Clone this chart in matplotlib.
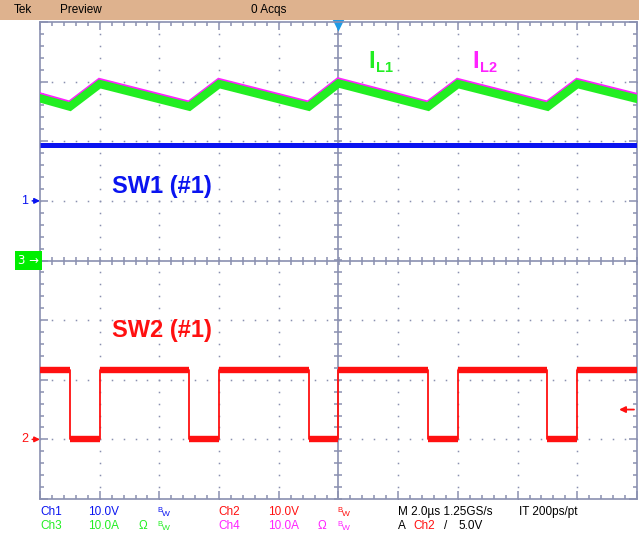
import matplotlib
matplotlib.use("Agg")
import numpy as np
import matplotlib.pyplot as plt
import matplotlib.transforms as mtransforms
from matplotlib.patches import Rectangle

# time base: 2 us/div, trigger at the centre of the screen
t_fall = [-9.0, -5.0, -1.0, 3.0, 7.0]   # SW2 falling edges (us)
t_rise = [-8.0, -4.0, 0.0, 4.0, 8.0]    # SW2 rising edges (us)
sw2_high = 11.7   # V
sw2_low = 0.1     # V

sw1_t = [-10.0, 10.0]
sw1_v = [9.3, 9.3]  # V

# inductor currents, corner points (us, A)
il_t = [-10.0, -9.0, -8.0, -5.0, -4.0, -1.0, 0.0, 3.0, 4.0, 7.0, 8.0, 10.0]
il1 = [27.2, 25.8, 29.6, 25.8, 29.6, 25.8, 29.7, 25.8, 29.6, 25.8, 29.6, 27.1]
il2 = [27.5, 26.1, 29.9, 26.1, 29.9, 26.1, 30.0, 26.1, 29.9, 26.1, 29.9, 27.4]

trig_level = 5.0  # V on Ch2

W, H = 639, 535
GRID = "#8A90B0"
BLUE = "#0A14F0"
RED = "#FF1010"
GREEN = "#22EE22"
MAG = "#FF22FF"

plt.rcParams["font.family"] = ["Liberation Sans", "DejaVu Sans"]


def fx(x):
    return x / W


def fy(y):
    return 1 - y / H


fig = plt.figure(figsize=(W / 100, H / 100), dpi=100)
fig.patches.append(Rectangle((0, fy(20)), 1, 20 / H, transform=fig.transFigure,
                             facecolor="#DEB28E", edgecolor="none"))
fig.text(fx(14), fy(10), "Tek", fontsize=8.5, va="center")
fig.text(fx(60), fy(10), "Preview", fontsize=8.5, va="center")
fig.text(fx(251), fy(10), "0 Acqs", fontsize=8.5, va="center")

rect = [fx(40), fy(499), 597 / W, 477 / H]
ax = fig.add_axes(rect)
ax.set_xlim(-10, 10)
ax.set_ylim(-4, 4)
for s in ax.spines.values():
    s.set_color(GRID)
    s.set_linewidth(1.2)
ax.set_xticks(np.arange(-10, 10.1, 2))
ax.set_xticks(np.arange(-10, 10.1, 0.4), minor=True)
ax.set_yticks(np.arange(-4, 4.1, 1))
ax.set_yticks(np.arange(-4, 4.1, 0.2), minor=True)
ax.tick_params(which="both", direction="in", top=True, right=True,
               labelbottom=False, labelleft=False, color=GRID, width=1.1)
ax.tick_params(which="major", length=6)
ax.tick_params(which="minor", length=3)

# dotted graticule
xd = np.arange(-10, 10.01, 0.4)
yd = np.arange(-4, 4.01, 0.2)
for gy in [-3, -2, -1, 1, 2, 3]:
    ax.plot(xd, np.full_like(xd, gy), ls="none", marker="s", ms=1.1,
            mec="none", mfc=GRID)
for gx in [-8, -6, -4, -2, 2, 4, 6, 8]:
    ax.plot(np.full_like(yd, gx), yd, ls="none", marker="s", ms=1.1,
            mec="none", mfc=GRID)
# centre cross with ticks
ax.axhline(0, color=GRID, lw=1.2)
ax.axvline(0, color=GRID, lw=1.2)
ax.plot(xd, np.zeros_like(xd), ls="none", marker="|", ms=6, mew=1.1, color=GRID)
ax.plot(np.zeros_like(yd), yd, ls="none", marker="_", ms=6, mew=1.1, color=GRID)
ax.plot(0, 3.95, marker="v", ms=8, color="#1E9BE6", mec="none", clip_on=False)


def chan_axes(ylim):
    a = fig.add_axes(rect, sharex=ax)
    a.set_ylim(*ylim)
    a.set_axis_off()
    a.patch.set_visible(False)
    return a


ax1 = chan_axes((-50, 30))    # 10 V/div
ax2 = chan_axes((-10, 70))    # 10 V/div
ax4 = chan_axes((-40, 40))    # 10 A/div
ax3 = chan_axes((-40, 40))    # 10 A/div

# Ch1
ax1.plot(sw1_t, sw1_v, color=BLUE, lw=3.6, solid_capstyle="butt")

# Ch2 (SW2)
sw2_t = [-10.0]
sw2_v = [sw2_high]
for tf, tr in zip(t_fall, t_rise):
    sw2_t += [tf, tf, tr, tr]
    sw2_v += [sw2_high, sw2_low, sw2_low, sw2_high]
sw2_t.append(10.0)
sw2_v.append(sw2_high)
ax2.plot(sw2_t, sw2_v, color=RED, lw=1.3)
hi_start = [-10.0] + t_rise
hi_end = t_fall + [10.0]
ax2.hlines([sw2_high] * len(hi_start), hi_start, hi_end, color=RED, lw=4.6,
           capstyle="butt")
ax2.hlines([sw2_low] * len(t_fall), t_fall, t_rise, color=RED, lw=4.6,
           capstyle="butt")

# Ch4 / Ch3 inductor currents (Ch3 drawn over Ch4)
ax4.plot(il_t, il2, color=MAG, lw=6, solid_joinstyle="miter")
ax3.plot(il_t, il1, color=GREEN, lw=6, solid_joinstyle="miter")

# ground markers
for a, lab, col in [(ax1, "1", BLUE), (ax2, "2", RED)]:
    a.annotate(lab, xy=(0, 0), xycoords=("axes fraction", "data"),
               xytext=(-12, 0), textcoords="offset pixels", ha="right",
               va="center", color=col, fontsize=9, annotation_clip=False,
               arrowprops=dict(arrowstyle="-|>", color=col, lw=1.1,
                               mutation_scale=8, shrinkA=1, shrinkB=0))
ax3.text(-0.001, 0, "3 →", transform=mtransforms.blended_transform_factory(
    ax3.transAxes, ax3.transData), ha="right", va="center", color="white",
    fontsize=8.5, family=["DejaVu Sans"],
    bbox=dict(boxstyle="square,pad=0.25", fc="#00EE00", ec="none"))
ax2.annotate("", xy=(0.9700, trig_level), xycoords=("axes fraction", "data"),
             xytext=(0.995, trig_level), annotation_clip=False,
             arrowprops=dict(arrowstyle="-|>", color=RED, lw=1.3,
                             mutation_scale=9, shrinkA=0, shrinkB=0))

# trace labels
fig.text(fx(112), fy(187), "SW1 (#1)", color=BLUE, fontsize=17,
         fontweight="bold", va="center")
fig.text(fx(112), fy(330), "SW2 (#1)", color=RED, fontsize=17,
         fontweight="bold", va="center")
fig.text(fx(368), fy(61), "I", color=GREEN, fontsize=17, fontweight="bold",
         va="center")
fig.text(fx(376), fy(68), "L1", color=GREEN, fontsize=10.5, fontweight="bold",
         va="center")
fig.text(fx(472), fy(61), "I", color=MAG, fontsize=17, fontweight="bold",
         va="center")
fig.text(fx(480), fy(68), "L2", color=MAG, fontsize=10.5, fontweight="bold",
         va="center")


def bw(x, y, col):
    fig.text(fx(x), fy(y - 2), "B", color=col, fontsize=5.5, va="center")
    fig.text(fx(x + 5), fy(y + 2), "W", color=col, fontsize=6, va="center")


y1, y2 = 512, 526
fs = 8.5
fig.text(fx(40), fy(y1), "Ch1", color=BLUE, fontsize=fs, va="center")
fig.text(fx(88), fy(y1), "10.0V", color=BLUE, fontsize=fs, va="center")
bw(157, y1, BLUE)
fig.text(fx(218), fy(y1), "Ch2", color=RED, fontsize=fs, va="center")
fig.text(fx(268), fy(y1), "10.0V", color=RED, fontsize=fs, va="center")
bw(337, y1, RED)
fig.text(fx(398), fy(y1), "M 2.0µs 1.25GS/s", color="black", fontsize=fs,
         va="center")
fig.text(fx(519), fy(y1), "IT 200ps/pt", color="black", fontsize=fs,
         va="center")

fig.text(fx(40), fy(y2), "Ch3", color=GREEN, fontsize=fs, va="center")
fig.text(fx(88), fy(y2), "10.0A", color=GREEN, fontsize=fs, va="center")
fig.text(fx(139), fy(y2), "Ω", color=GREEN, fontsize=fs, va="center")
bw(157, y2, GREEN)
fig.text(fx(218), fy(y2), "Ch4", color=MAG, fontsize=fs, va="center")
fig.text(fx(268), fy(y2), "10.0A", color=MAG, fontsize=fs, va="center")
fig.text(fx(318), fy(y2), "Ω", color=MAG, fontsize=fs, va="center")
bw(337, y2, MAG)
fig.text(fx(398), fy(y2), "A", color="black", fontsize=fs, va="center")
fig.text(fx(413), fy(y2), "Ch2", color=RED, fontsize=fs, va="center")
fig.text(fx(444), fy(y2), "/", color="black", fontsize=fs, va="center")
fig.text(fx(458), fy(y2), "5.0V", color="black", fontsize=fs, va="center")

fig.savefig("out.png", dpi=100)
